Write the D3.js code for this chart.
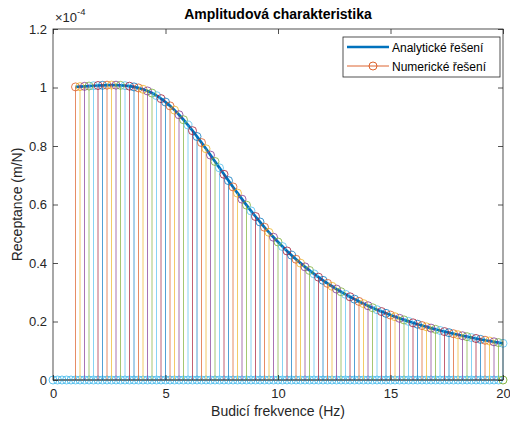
<!DOCTYPE html>
<html>
<head>
<meta charset="utf-8">
<script src="https://cdn.jsdelivr.net/npm/d3@7"></script>
<style>
  body { margin: 0; background: #fff; }
  text { font-family: "Liberation Sans", Arial, Helvetica, sans-serif; }
</style>
</head>
<body>
<svg id="chart" width="510" height="425"></svg>
<script>
// Excitation frequencies of the computed points (Hz)
const freq = [
  1.0, 1.2, 1.4, 1.6, 1.8, 2.0, 2.2, 2.4, 2.6, 2.8,
  3.0, 3.2, 3.4, 3.6, 3.8, 4.0, 4.2, 4.4, 4.6, 4.8,
  5.0, 5.2, 5.4, 5.6, 5.8, 6.0, 6.2, 6.4, 6.6, 6.8,
  7.0, 7.2, 7.4, 7.6, 7.8, 8.0, 8.2, 8.4, 8.6, 8.8,
  9.0, 9.2, 9.4, 9.6, 9.8, 10.0, 10.2, 10.4, 10.6, 10.8,
  11.0, 11.2, 11.4, 11.6, 11.8, 12.0, 12.2, 12.4, 12.6, 12.8,
  13.0, 13.2, 13.4, 13.6, 13.8, 14.0, 14.2, 14.4, 14.6, 14.8,
  15.0, 15.2, 15.4, 15.6, 15.8, 16.0, 16.2, 16.4, 16.6, 16.8,
  17.0, 17.2, 17.4, 17.6, 17.8, 18.0, 18.2, 18.4, 18.6, 18.8,
  19.0, 19.2, 19.4, 19.6, 19.8, 20.0
];

// Receptance amplitude at each frequency, in units of 1e-4 m/N
const receptance = [
  1.0020, 1.0030, 1.0040, 1.0050, 1.0060, 1.0068, 1.0075, 1.0080, 1.0082, 1.0080,
  1.0074, 1.0062, 1.0045, 1.0020, 0.9985, 0.9940, 0.9882, 0.9810, 0.9722, 0.9620,
  0.9503, 0.9372, 0.9227, 0.9068, 0.8897, 0.8716, 0.8524, 0.8324, 0.8117, 0.7905,
  0.7689, 0.7471, 0.7252, 0.7033, 0.6816, 0.6601, 0.6389, 0.6182, 0.5979, 0.5781,
  0.5589, 0.5403, 0.5222, 0.5048, 0.4880, 0.4718, 0.4562, 0.4412, 0.4268, 0.4129,
  0.3996, 0.3868, 0.3746, 0.3629, 0.3516, 0.3408, 0.3304, 0.3205, 0.3109, 0.3018,
  0.2930, 0.2845, 0.2764, 0.2686, 0.2612, 0.2540, 0.2471, 0.2404, 0.2340, 0.2279,
  0.2220, 0.2163, 0.2108, 0.2055, 0.2004, 0.1955, 0.1907, 0.1861, 0.1817, 0.1775,
  0.1733, 0.1694, 0.1655, 0.1618, 0.1582, 0.1547, 0.1513, 0.1481, 0.1449, 0.1419,
  0.1389, 0.1360, 0.1333, 0.1306, 0.1279, 0.1254
];

// Lower grid rows of the numerical matrix that stay at zero
const zeroFreq = [0, 0.2, 0.4, 0.6, 0.8];

const xTicks = [0, 5, 10, 15, 20];
const yTicks = [0, 0.2, 0.4, 0.6, 0.8, 1, 1.2];
const yTickLabels = ["0", "0.2", "0.4", "0.6", "0.8", "1", "1.2"];
const seriesNames = ["Analytické řešení", "Numerické řešení"];
const titleText = "Amplitudová charakteristika";
const xLabel = "Budicí frekvence (Hz)";
const yLabel = "Receptance (m/N)";
const colorOrder = ["#0072BD", "#D95319", "#EDB120", "#7E2F8E", "#77AC30", "#4DBEEE", "#A2142F"];

const plot = { left: 53, right: 503, top: 29, bottom: 380 };
const axisColor = "#262626";

const svg = d3.select("#chart");

const x = d3.scaleLinear().domain([0, 20]).range([plot.left, plot.right]);
const y = d3.scaleLinear().domain([0, 1.2]).range([plot.bottom, plot.top]);

// Full grid of frequencies for the numerical matrix (each column is one stem series)
const grid = zeroFreq.concat(freq);
const series = freq.map((f, j) => ({
  color: colorOrder[(j + 1) % colorOrder.length],
  points: grid.map((g, i) => ({ f: g, v: (i - zeroFreq.length === j) ? receptance[j] : 0 }))
}));

// Stem baseline
svg.append("line")
  .attr("x1", x(0)).attr("x2", x(20))
  .attr("y1", y(0)).attr("y2", y(0))
  .attr("stroke", axisColor).attr("stroke-width", 0.8);

// Analytical solution
svg.append("path")
  .datum(freq.map((f, i) => [f, receptance[i]]))
  .attr("fill", "none")
  .attr("stroke", colorOrder[0])
  .attr("stroke-width", 2.7)
  .attr("d", d3.line().x(d => x(d[0])).y(d => y(d[1])));

// Zero-valued markers coincide at every grid position; only the one
// from the last series drawn there remains visible, so draw just that one.
const zeroMarkers = grid.map((g, i) => {
  for (let j = series.length - 1; j >= 0; j--) {
    if (series[j].points[i].v === 0) return { f: g, color: series[j].color };
  }
  return null;
}).filter(Boolean);

svg.append("g").attr("class", "zero-markers")
  .selectAll("circle")
  .data(zeroMarkers)
  .join("circle")
  .attr("cx", d => x(d.f)).attr("cy", y(0))
  .attr("r", 4)
  .attr("fill", "none")
  .attr("stroke", d => d.color).attr("stroke-width", 0.9);

// Numerical solution: one stem series per frequency
const stems = svg.append("g").attr("class", "stems");
series.forEach(s => {
  const g = stems.append("g");
  const nonzero = s.points.filter(p => p.v !== 0);
  g.selectAll("line")
    .data(nonzero)
    .join("line")
    .attr("x1", p => x(p.f)).attr("x2", p => x(p.f))
    .attr("y1", y(0)).attr("y2", p => y(p.v))
    .attr("stroke", s.color).attr("stroke-width", 0.9).attr("stroke-opacity", 0.75);
  g.selectAll("circle")
    .data(nonzero)
    .join("circle")
    .attr("cx", p => x(p.f)).attr("cy", p => y(p.v))
    .attr("r", 4)
    .attr("fill", "none")
    .attr("stroke", s.color).attr("stroke-width", 0.9).attr("stroke-opacity", 0.85);
});

// Axes with inward ticks on all four sides
const tickLen = 5;
const styleAxis = g => {
  g.select(".domain").remove();
  g.selectAll(".tick line").attr("stroke", axisColor).attr("stroke-width", 0.8);
  g.selectAll(".tick text").attr("fill", axisColor).style("font-size", "13px")
    .style("font-family", "'Liberation Sans', Arial, sans-serif");
};

svg.append("g")
  .attr("transform", `translate(0,${plot.bottom})`)
  .call(d3.axisBottom(x).tickValues(xTicks).tickSize(-tickLen).tickPadding(9).tickFormat(d3.format("d")))
  .call(styleAxis);

svg.append("g")
  .attr("transform", `translate(0,${plot.top})`)
  .call(d3.axisTop(x).tickValues(xTicks).tickSize(-tickLen).tickFormat(""))
  .call(styleAxis);

svg.append("g")
  .attr("transform", `translate(${plot.left},0)`)
  .call(d3.axisLeft(y).tickValues(yTicks).tickSize(-tickLen).tickPadding(6)
    .tickFormat((d, i) => yTickLabels[i]))
  .call(styleAxis);

svg.append("g")
  .attr("transform", `translate(${plot.right},0)`)
  .call(d3.axisRight(y).tickValues(yTicks).tickSize(-tickLen).tickFormat(""))
  .call(styleAxis);

// Axes box
svg.append("rect")
  .attr("x", plot.left).attr("y", plot.top)
  .attr("width", plot.right - plot.left).attr("height", plot.bottom - plot.top)
  .attr("fill", "none").attr("stroke", axisColor).attr("stroke-width", 0.8);

// Exponent label of the y axis
const expo = svg.append("text")
  .attr("x", plot.left + 2).attr("y", 22)
  .attr("fill", axisColor).style("font-size", "13px");
expo.append("tspan").text("×10");
expo.append("tspan").attr("dy", -7).style("font-size", "9.5px").text("-4");

// Title and axis labels
svg.append("text")
  .attr("x", (plot.left + plot.right) / 2).attr("y", 19)
  .attr("text-anchor", "middle")
  .style("font-size", "14px").style("font-weight", "bold")
  .attr("fill", "#000")
  .text(titleText);

svg.append("text")
  .attr("x", (plot.left + plot.right) / 2).attr("y", 416)
  .attr("text-anchor", "middle")
  .style("font-size", "14px").attr("fill", axisColor)
  .text(xLabel);

svg.append("text")
  .attr("transform", `translate(22,${(plot.top + plot.bottom) / 2}) rotate(-90)`)
  .attr("text-anchor", "middle")
  .style("font-size", "14px").attr("fill", axisColor)
  .text(yLabel);

// Legend
const lg = svg.append("g").attr("class", "legend");
lg.append("rect")
  .attr("x", 343).attr("y", 37).attr("width", 157).attr("height", 40)
  .attr("fill", "#fff").attr("stroke", axisColor).attr("stroke-width", 0.8);
lg.append("line")
  .attr("x1", 347).attr("x2", 389).attr("y1", 47).attr("y2", 47)
  .attr("stroke", colorOrder[0]).attr("stroke-width", 2.7);
lg.append("line")
  .attr("x1", 347).attr("x2", 389).attr("y1", 66).attr("y2", 66)
  .attr("stroke", colorOrder[1]).attr("stroke-width", 0.9);
lg.append("circle")
  .attr("cx", 373).attr("cy", 66).attr("r", 4)
  .attr("fill", "none").attr("stroke", colorOrder[1]).attr("stroke-width", 0.9);
seriesNames.forEach((name, i) => {
  lg.append("text")
    .attr("x", 392).attr("y", [47, 66][i] + 4.5)
    .style("font-size", "12px").attr("fill", "#000")
    .text(name);
});
</script>
</body>
</html>
